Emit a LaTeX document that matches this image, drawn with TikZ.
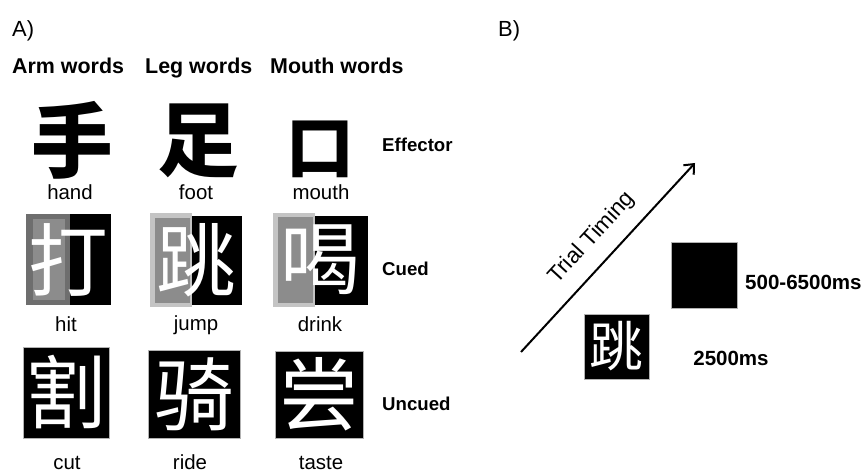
\documentclass[tikz,border=0pt]{standalone}
\usepackage{fontspec}
\setmainfont{Liberation Sans}
\newfontfamily\cjk{Noto Sans CJK SC}
\usetikzlibrary{arrows.meta}
\definecolor{cuedark}{HTML}{6E6E6E}
\definecolor{cuemid}{HTML}{8C8C8C}
\definecolor{cuelight}{HTML}{C4C4C4}
\tikzset{
 head/.style={font=\fontsize{21.5}{24}\selectfont\bfseries, anchor=base west, inner sep=0},
 rowlab/.style={font=\fontsize{18.7}{22}\selectfont\bfseries, anchor=base west, inner sep=0},
 word/.style={font=\fontsize{20.5}{24}\selectfont, anchor=base, inner sep=0},
 timelab/.style={font=\fontsize{20.6}{24}\selectfont\bfseries, anchor=base west, inner sep=0},
 panel/.style={font=\fontsize{22}{26}\selectfont, anchor=base west, inner sep=0},
 effchar/.style={font=\cjk\bfseries\fontsize{82}{82}\selectfont, anchor=center, inner sep=0},
 boxchar/.style={font=\cjk\fontsize{80}{80}\selectfont, text=white, anchor=center, inner sep=0},
 blackbox/.style={fill=black, draw=gray!60, line width=0.6bp, inner sep=0},
}
\begin{document}
\begin{tikzpicture}[x=1bp,y=-1bp]
\useasboundingbox (0,0) rectangle (864,473);
% panel labels
\node[panel] (pa) at (12,37) {A)};
\node[panel] (pb) at (498,37) {B)};
% column heads
\node[head] (harm) at (12,74) {Arm words};
\node[head] (hleg) at (145,74) {Leg words};
\node[head] (hmouth) at (270,74) {Mouth words};
% effector row
\node[effchar] (ceff1) at (72,140) {手};
\node[effchar] (ceff2) at (198,141) {足};
\node[effchar, font=\cjk\bfseries\fontsize{68}{68}\selectfont] (ceff3) at (320,149) {口};
\node[word] (whand) at (70,200) {hand};
\node[word] (wfoot) at (196,200) {foot};
\node[word] (wmouth) at (321,200) {mouth};
\node[rowlab] (leff) at (382,152) {Effector};
% cued row
\fill[cuedark] (26,214) rectangle (70,305);
\fill[cuemid] (33,219) rectangle (65,300);
\fill[black] (70,214) rectangle (111,305);
\fill[cuelight] (150,213) rectangle (192,307);
\fill[cuemid] (155,218) rectangle (190,303);
\fill[black] (192,216) rectangle (242,305);
\fill[cuelight] (273,213) rectangle (315,307);
\fill[cuemid] (278,217) rectangle (313,303);
\fill[black] (315,216) rectangle (368,305);
\node[boxchar] (ccue1) at (68.5,260) {打};
\node[boxchar] (ccue2) at (196,260) {跳};
\node[boxchar] (ccue3) at (320,260) {喝};
\node[word] (whit) at (66,332) {hit};
\node[word] (wjump) at (196,331) {jump};
\node[word] (wdrink) at (320,332) {drink};
\node[rowlab] (lcue) at (382,276) {Cued};
% uncued row
\node[blackbox, minimum width=86bp, minimum height=91bp] (bu1) at (66,392.5) {};
\node[blackbox, minimum width=92bp, minimum height=88bp] (bu2) at (194,394) {};
\node[blackbox, minimum width=88bp, minimum height=87bp] (bu3) at (319,394.5) {};
\node[boxchar] (cun1) at (bu1.center) {割};
\node[boxchar] (cun2) at (bu2.center) {骑};
\node[boxchar] (cun3) at (bu3.center) {尝};
\node[word] (wcut) at (67,469) {cut};
\node[word] (wride) at (190,469) {ride};
\node[word] (wtaste) at (321,469) {taste};
\node[rowlab] (lun) at (382,410) {Uncued};
% panel B
\coordinate (t0) at (521,352);
\coordinate (t1) at (695,163);
\draw[line width=2bp, -{Straight Barb[length=8bp,width=14bp]}] (t0) -- (t1);
\node[word, anchor=center, rotate=47.4, font=\fontsize{22.5}{26}\selectfont] (tt) at (592,238) {Trial Timing};
\node[blackbox, minimum width=65bp, minimum height=65bp] (bstim) at (616.5,346.5) {};
\node[boxchar, font=\cjk\fontsize{54}{54}\selectfont] (cstim) at (bstim.center) {跳};
\node[blackbox, minimum width=66bp, minimum height=66bp] (bblank) at (704,275) {};
\node[timelab] (l500) at (745,290) {500-6500ms};
\node[timelab, anchor=base] (l2500) at (731,366) {2500ms};
\end{tikzpicture}
\end{document}
